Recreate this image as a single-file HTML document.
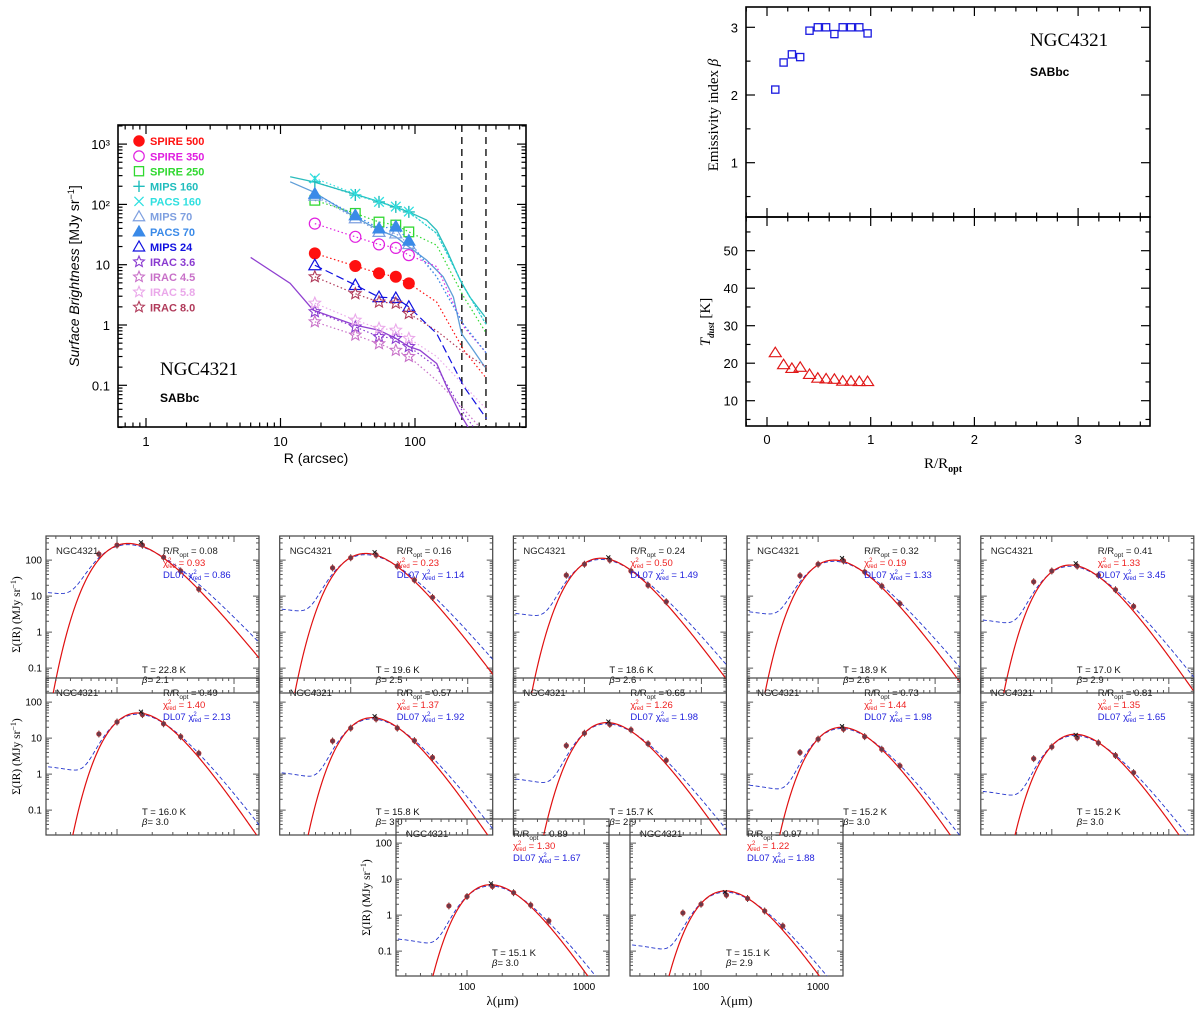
<!DOCTYPE html>
<html><head><meta charset="utf-8"><title>NGC4321 dust profiles</title>
<style>
html,body{margin:0;padding:0;background:#fff;}
svg{display:block;}
text{font-family:"Liberation Sans",sans-serif;}
.serif{font-family:"Liberation Serif",serif;}
</style></head>
<body>
<svg id="fig" width="1200" height="1012" viewBox="0 0 1200 1012" xmlns="http://www.w3.org/2000/svg">
<rect x="0" y="0" width="1200" height="1012" fill="#fff"/>
<defs>
<clipPath id="clipTL"><rect x="118" y="125" width="408" height="302"/></clipPath>
</defs>
<g id="tl"></g>
<g id="tr"></g>
<g id="sed"></g>
</svg>
<script>
// ---------- Top-left: radial surface brightness profiles ----------
const radii = [18, 36, 54, 72, 90];
const spire500 = [15.4, 9.5, 7.2, 6.3, 4.9];
const spire350 = [48, 29, 21.7, 19, 14.4];
const spire250 = [117, 71, 51, 45.5, 35];
const mips160 = [237, 143, 110, 91, 75];
const pacs160 = [270, 150, 110, 92, 76];
const mips70 = [140, 59, 35, 33, 22];
const pacs70 = [150, 66, 40, 43, 25];
const mips24 = [9.8, 4.6, 2.9, 2.8, 2.0];
const irac36 = [1.66, 0.93, 0.64, 0.6, 0.44];
const irac45 = [1.13, 0.68, 0.49, 0.38, 0.3];
const irac58 = [2.3, 1.2, 0.88, 0.82, 0.6];
const irac80 = [6.3, 3.3, 2.4, 2.3, 1.55];
const extR = [90, 145, 231, 340];
const spire500Ext = [4.9, 2.4, 0.38, 0.13];
const spire350Ext = [14.4, 9.3, 0.93, 0.34];
const spire250Ext = [35, 21, 2.9, 0.72];
const pacs160Ext = [76, 33, 4.3, 1.0];
const pacs70Ext = [25, 6.3, 1.0, 0.34];
const mips24Ext = [2.0, 0.72, 0.095, 0.028];
const irac36Ext = [0.44, 0.2, 0.034, 0.01];
const irac45Ext = [0.3, 0.12, 0.04, 0.015];
const irac58Ext = [0.6, 0.3, 0.1, 0.04];
const irac80Ext = [1.55, 0.8, 0.35, 0.2];
const cyanProfR = [11.8, 17.5, 35.6, 54, 72, 90, 122, 145, 172, 216, 256, 331];
const cyanProfS = [287, 237, 148, 111, 89, 75, 55, 37, 17.5, 5.6, 2.9, 1.37];
const steelProfR = [11.8, 17.5, 35.6, 54, 72, 90, 122, 162, 193, 222, 272, 331];
const steelProfS = [237, 162, 62, 37.5, 29, 19.8, 11.9, 6.3, 2.9, 0.72, 0.38, 0.2];
const purpleProfR = [6, 11.8, 17.5, 35.6, 54, 72, 90, 109, 145, 172, 216, 256];
const purpleProfS = [13.2, 4.9, 1.77, 1.0, 0.82, 0.6, 0.44, 0.38, 0.23, 0.095, 0.034, 0.018];
const apertureR = [223, 337];
const tlXTicks = [1, 10, 100];
const tlYTicks = [1000, 100, 10, 1, 0.1];
const tlYLabels = ['10³', '10²', '10', '1', '0.1'];

// ---------- Top-right: beta and T vs R/Ropt ----------
const rOpt = [0.08, 0.16, 0.24, 0.32, 0.41, 0.49, 0.57, 0.65, 0.73, 0.81, 0.89, 0.97];
const betaVals = [2.08, 2.48, 2.6, 2.56, 2.95, 3.0, 3.0, 2.9, 3.0, 3.0, 3.0, 2.91];
const tempVals = [22.8, 19.6, 18.6, 18.9, 17.0, 16.0, 15.8, 15.7, 15.2, 15.2, 15.1, 15.1];
const trXTicks = [0, 1, 2, 3];
const betaTicks = [1, 2, 3];
const tempTicks = [10, 20, 30, 40, 50];

// ---------- SED panels ----------
const sedR = ['0.08','0.16','0.24','0.32','0.41','0.49','0.57','0.65','0.73','0.81','0.89','0.97'];
const sedT = [22.8, 19.6, 18.6, 18.9, 17.0, 16.0, 15.8, 15.7, 15.2, 15.2, 15.1, 15.1];
const sedBeta = [2.1, 2.5, 2.6, 2.6, 2.9, 3.0, 3.0, 2.9, 3.0, 3.0, 3.0, 2.9];
const chiMBB = ['0.93','0.23','0.50','0.19','1.33','1.40','1.37','1.26','1.44','1.35','1.30','1.22'];
const chiDL = ['0.86','1.14','1.49','1.33','3.45','2.13','1.92','1.98','1.98','1.65','1.67','1.88'];
const sedPeak = [290, 153, 113, 100, 73, 50, 37, 27, 20, 12.8, 7, 4.7];
const dlFloor = [11, 3.8, 2.9, 3.2, 1.9, 1.4, 0.95, 0.64, 0.43, 0.29, 0.19, 0.13];
const bandWl = [70, 100, 160, 250, 350, 500];
const flux70 = [147, 61, 38, 37, 25, 13, 8.3, 6.2, 4, 2.7, 1.8, 1.15];
const flux100 = [260, 116, 77, 77, 50, 28, 19, 13.7, 9.4, 5.7, 3.3, 2.0];
const flux160 = [260, 138, 100, 95, 68, 45, 34, 24, 17.8, 10.2, 6.3, 3.6];
const flux250 = [120, 68, 50, 47, 38, 25, 19, 17, 11, 7.4, 4.2, 2.9];
const flux350 = [50, 28, 20, 19, 15, 11, 8.5, 7, 4.9, 3.3, 1.9, 1.3];
const flux500 = [15.6, 9.2, 7, 6.2, 5.2, 3.8, 2.9, 2.4, 1.7, 1.1, 0.69, 0.5];
const sedXTicks = [100, 1000];
const sedYTicks = [100, 10, 1, 0.1];
const sedYLabels = ['100', '10', '1', '0.1'];

const NS = 'http://www.w3.org/2000/svg';
function mk(parent, tag, attrs) {
  const e = document.createElementNS(NS, tag);
  for (const k in attrs) e.setAttribute(k, attrs[k]);
  parent.appendChild(e);
  return e;
}
const L = Math.log10;

function logMinorVals(lo, hi) {
  const out = [];
  for (let d = Math.floor(L(lo)) - 1; d <= Math.ceil(L(hi)); d++) {
    for (let k = 1; k <= 9; k++) {
      const v = k * Math.pow(10, d);
      if (v >= lo && v <= hi) out.push([v, k === 1]);
    }
  }
  return out;
}
function linVals(lo, hi, step, majStep) {
  const out = [];
  const s = Math.ceil(lo / step - 1e-9);
  for (let i = s; i * step <= hi + 1e-9; i++) {
    const v = i * step;
    out.push([v, Math.abs(v / majStep - Math.round(v / majStep)) < 1e-6]);
  }
  return out;
}
function xTicks(g, vals, fx, y0, y1, M, m, stroke, sw) {
  vals.forEach(([v, maj]) => {
    const x = fx(v), len = maj ? M : m;
    const t1 = mk(g, 'line', {x1: x, x2: x, y1: y1, y2: y1 - len, stroke: stroke, 'stroke-width': sw});
    
    
    const t2 = mk(g, 'line', {x1: x, x2: x, y1: y0, y2: y0 + len, stroke: stroke, 'stroke-width': sw});
    
    
  });
}
function yTicks(g, vals, fy, x0, x1, M, m, stroke, sw) {
  vals.forEach(([v, maj]) => {
    const y = fy(v), len = maj ? M : m;
    const t1 = mk(g, 'line', {x1: x0, x2: x0 + len, y1: y, y2: y, stroke: stroke, 'stroke-width': sw});
    
    
    const t2 = mk(g, 'line', {x1: x1, x2: x1 - len, y1: y, y2: y, stroke: stroke, 'stroke-width': sw});
    
    
  });
}
function pathFrom(xs, ys, fx, fy) {
  return xs.map((x, i) => (i ? 'L' : 'M') + fx(x).toFixed(2) + ',' + fy(ys[i]).toFixed(2)).join(' ');
}
function starPts(cx, cy, r) {
  const p = [];
  for (let i = 0; i < 10; i++) {
    const a = -Math.PI / 2 + i * Math.PI / 5, rr = i % 2 ? r * 0.45 : r;
    p.push((cx + rr * Math.cos(a)).toFixed(2) + ',' + (cy + rr * Math.sin(a)).toFixed(2));
  }
  return p.join(' ');
}
function marker(g, type, x, y, color, s) {
  let e;
  if (type === 'fcircle') e = mk(g, 'circle', {cx: x, cy: y, r: s, fill: color, stroke: color});
  else if (type === 'ocircle') e = mk(g, 'circle', {cx: x, cy: y, r: s, fill: 'none', stroke: color, 'stroke-width': 1.2});
  else if (type === 'square') e = mk(g, 'rect', {x: x - s, y: y - s, width: 2 * s, height: 2 * s, fill: 'none', stroke: color, 'stroke-width': 1.3});
  else if (type === 'plus') e = mk(g, 'path', {d: `M${x - s},${y}H${x + s}M${x},${y - s}V${y + s}`, stroke: color, 'stroke-width': 1.4, fill: 'none'});
  else if (type === 'cross') e = mk(g, 'path', {d: `M${x - s * .8},${y - s * .8}L${x + s * .8},${y + s * .8}M${x - s * .8},${y + s * .8}L${x + s * .8},${y - s * .8}`, stroke: color, 'stroke-width': 1.3, fill: 'none'});
  else if (type === 'otri' || type === 'ftri') e = mk(g, 'polygon', {points: `${x},${y - s} ${x - s},${y + s * .75} ${x + s},${y + s * .75}`, fill: type === 'ftri' ? color : 'none', stroke: color, 'stroke-width': 1.2});
  else e = mk(g, 'polygon', {points: starPts(x, y, s), fill: 'none', stroke: color, 'stroke-width': 1.1});
  return e;
}

// ================= TOP-LEFT =================
(function () {
  const g = document.getElementById('tl');
  const fx = v => 146 + L(v) * 134.5;
  const fy = v => 325 - L(v) * 60.3;
  const frame = mk(g, 'rect', {x: 118, y: 125, width: 408, height: 302, fill: 'none', stroke: '#000', 'stroke-width': 1.6});
  
  
  xTicks(g, logMinorVals(0.62, 668), fx, 125, 427, 9, 4.5, '#000', 1.2);
  yTicks(g, logMinorVals(0.02, 2000), fy, 118, 526, 9, 4.5, '#000', 1.2);
  tlXTicks.forEach(v => {
    const t = mk(g, 'text', {x: fx(v), y: 446, 'text-anchor': 'middle', 'font-size': 13});
    t.textContent = String(v);
    
    
  });
  tlYTicks.forEach((v, i) => {
    const t = mk(g, 'text', {x: 110, y: fy(v) + 5, 'text-anchor': 'end', 'font-size': 13});
    t.textContent = tlYLabels[i];
    
    
  });
  const xt = mk(g, 'text', {x: 316, y: 463, 'text-anchor': 'middle', 'font-size': 14});
  xt.textContent = 'R (arcsec)';
  
  
  const yt = mk(g, 'text', {x: 0, y: 0, 'text-anchor': 'middle', 'font-size': 14, transform: 'translate(79,276) rotate(-90)'});
  yt.innerHTML = '<tspan font-style="italic">Surface Brightness</tspan> [MJy sr<tspan font-size="9" dy="-5">−1</tspan><tspan dy="5">]</tspan>';
  
  
  const n1 = mk(g, 'text', {x: 160, y: 375, 'font-size': 19, class: 'serif'});
  n1.textContent = 'NGC4321';
  
  
  const n2 = mk(g, 'text', {x: 160, y: 402, 'font-size': 12, 'font-weight': 'bold'});
  n2.textContent = 'SABbc';
  
  

  const cg = mk(g, 'g', {'clip-path': 'url(#clipTL)'});
  
  
  apertureR.forEach(r => {
    const d = mk(cg, 'line', {x1: fx(r), x2: fx(r), y1: 125, y2: 427, stroke: '#000', 'stroke-width': 1.3, 'stroke-dasharray': '7,5'});
    
    
  });
  const profiles = [
    [cyanProfR, cyanProfS, '#2bbcbc', 'mips160-profile'],
    [steelProfR, steelProfS, '#5f9ed8', 'mips70-profile'],
    [purpleProfR, purpleProfS, '#9040d0', 'irac36-profile']
  ];
  profiles.forEach(p => {
    const e = mk(cg, 'path', {d: pathFrom(p[0], p[1], fx, fy), fill: 'none', stroke: p[2], 'stroke-width': 1.3});
    
    
  });
  const series = [
    ['SPIRE 500', spire500, spire500Ext, '#ff1010', 'fcircle', 5.5, 'spire500'],
    ['SPIRE 350', spire350, spire350Ext, '#e020e0', 'ocircle', 5.5, 'spire350'],
    ['SPIRE 250', spire250, spire250Ext, '#30d830', 'square', 4.8, 'spire250'],
    ['MIPS 160', mips160, pacs160Ext, '#20bdbd', 'plus', 6, 'mips160'],
    ['PACS 160', pacs160, pacs160Ext, '#30e0e0', 'cross', 6, 'pacs160'],
    ['MIPS 70', mips70, pacs70Ext, '#7fa0e0', 'otri', 6, 'mips70'],
    ['PACS 70', pacs70, pacs70Ext, '#3a8ae8', 'ftri', 6, 'pacs70'],
    ['MIPS 24', mips24, mips24Ext, '#1010e0', 'otri', 6, 'mips24'],
    ['IRAC 3.6', irac36, irac36Ext, '#8a3ad0', 'star', 6, 'irac36'],
    ['IRAC 4.5', irac45, irac45Ext, '#c870c8', 'star', 6, 'irac45'],
    ['IRAC 5.8', irac58, irac58Ext, '#eaa8ea', 'star', 6, 'irac58'],
    ['IRAC 8.0', irac80, irac80Ext, '#b03a5a', 'star', 6, 'irac80']
  ];
  series.forEach(s => {
    const xs = radii.concat(extR.slice(1)), ys = s[1].concat(s[2].slice(1));
    const dash = s[6] === 'mips24' ? '8,4' : '1.5,2.5';
    const ln = mk(cg, 'path', {d: pathFrom(xs, ys, fx, fy), fill: 'none', stroke: s[3], 'stroke-width': 1.2, 'stroke-dasharray': dash});
    
    
    radii.forEach((r, i) => {
      const m = marker(cg, s[4], fx(r), fy(s[1][i]), s[3], s[5]);
      
      
    });
  });
  series.forEach((s, i) => {
    const y = 141 + i * 15.1;
    const m = marker(g, s[4], 139, y, s[3], s[5] * 0.95);
    
    
    const t = mk(g, 'text', {x: 150, y: y + 4.2, 'font-size': 11, 'font-weight': 'bold', fill: s[3]});
    t.textContent = s[0];
    
    
  });
})();

// ================= TOP-RIGHT =================
(function () {
  const g = document.getElementById('tr');
  const fx = v => 767 + v * 103.7;
  const fb = b => 230.4 - 67.7 * b;
  const ft = t => 400.7 - (t - 10) * 3.75;
  [[7, 210, 'beta-frame'], [217, 209, 'temperature-frame']].forEach(f => {
    const r = mk(g, 'rect', {x: 746, y: f[0], width: 404, height: f[1], fill: 'none', stroke: '#000', 'stroke-width': 1.6});
    
    
  });
  xTicks(g, linVals(-0.2, 3.69, 0.2, 1), fx, 7, 217, 9, 4.5, '#000', 1.2);
  xTicks(g, linVals(-0.2, 3.69, 0.2, 1), fx, 217, 426, 9, 4.5, '#000', 1.2);
  yTicks(g, linVals(0.21, 3.31, 0.5, 1), fb, 746, 1150, 9, 4.5, '#000', 1.2);
  yTicks(g, linVals(3.3, 59, 5, 10), ft, 746, 1150, 9, 4.5, '#000', 1.2);
  trXTicks.forEach(v => {
    const t = mk(g, 'text', {x: fx(v), y: 444, 'text-anchor': 'middle', 'font-size': 13});
    t.textContent = String(v);
    
    
  });
  betaTicks.forEach(v => {
    const t = mk(g, 'text', {x: 738, y: fb(v) + 5, 'text-anchor': 'end', 'font-size': 13});
    t.textContent = String(v);
    
    
  });
  tempTicks.forEach(v => {
    const t = mk(g, 'text', {x: 738, y: ft(v) + 5, 'text-anchor': 'end', 'font-size': 13});
    t.textContent = String(v);
    
    
  });
  const xt = mk(g, 'text', {x: 943, y: 468, 'text-anchor': 'middle', 'font-size': 15, class: 'serif'});
  xt.innerHTML = 'R/R<tspan font-size="10" dy="4" font-weight="bold">opt</tspan>';
  
  
  const yb = mk(g, 'text', {x: 0, y: 0, 'text-anchor': 'middle', 'font-size': 15, class: 'serif', transform: 'translate(718,115) rotate(-90)'});
  yb.innerHTML = 'Emissivity index <tspan font-style="italic">β</tspan>';
  
  
  const yT = mk(g, 'text', {x: 0, y: 0, 'text-anchor': 'middle', 'font-size': 15, class: 'serif', transform: 'translate(710,322) rotate(-90)'});
  yT.innerHTML = '<tspan font-style="italic">T</tspan><tspan font-size="9" font-style="italic" font-weight="bold" dy="4">dust</tspan><tspan dy="-4">  [K]</tspan>';
  
  
  const n1 = mk(g, 'text', {x: 1030, y: 46, 'font-size': 19, class: 'serif'});
  n1.textContent = 'NGC4321';
  
  
  const n2 = mk(g, 'text', {x: 1030, y: 76, 'font-size': 12, 'font-weight': 'bold'});
  n2.textContent = 'SABbc';
  
  
  rOpt.forEach((r, i) => {
    const b = mk(g, 'rect', {x: fx(r) - 3.6, y: fb(betaVals[i]) - 3.6, width: 7.2, height: 7.2, fill: 'none', stroke: '#1a1ae0', 'stroke-width': 1.3});
    
    
    const x = fx(r), y = ft(tempVals[i]);
    const t = mk(g, 'polygon', {points: `${x},${y - 5.5} ${x - 6},${y + 4} ${x + 6},${y + 4}`, fill: 'none', stroke: '#e01818', 'stroke-width': 1.2});
    
    
  });
})();

// ================= SED PANELS =================
(function () {
  const root = document.getElementById('sed');
  const W = 213, H = 157, XL = 1.393, YT = 2.67;
  const rowY = [536, 678, 819];
  function xPeak(b) { let x = 4; for (let k = 0; k < 50; k++) x = (3 + b) * (1 - Math.exp(-x)); return x; }
  function mbb(lam, T, b) { return Math.pow(lam, -(3 + b)) / (Math.exp(14388 / (lam * T)) - 1); }
  const lams = [];
  for (let i = 0; i <= 200; i++) lams.push(Math.pow(10, 1.3 + i * (3.3 - 1.3) / 200));
  function normCurve(T, b, peak) {
    let mx = 0;
    const v = lams.map(l => { const s = mbb(l, T, b); if (s > mx) mx = s; return s; });
    return v.map(s => s / mx * peak);
  }
  const fluxes = [flux70, flux100, flux160, flux250, flux350, flux500];
  sedR.forEach((rr, i) => {
    const row = i < 5 ? 0 : (i < 10 ? 1 : 2);
    const px = i < 10 ? 46 + (i % 5) * 233.7 : 396 + (i - 10) * 234;
    const py = rowY[row];
    const fx = l => px + (L(l) - XL) * 117;
    const fy = v => py + (YT - L(v)) * 36;
    const g = mk(root, 'g', {});
    
    
    const cp = mk(g, 'clipPath', {id: 'cp' + i});
    mk(cp, 'rect', {x: px, y: py, width: W, height: H});
    const fr = mk(g, 'rect', {x: px, y: py, width: W, height: H, fill: 'none', stroke: '#444', 'stroke-width': 1.2});
    
    
    xTicks(g, logMinorVals(25, 1620), fx, py, py + H, 6, 3, '#555', 1);
    yTicks(g, logMinorVals(0.021, 460), fy, px, px + W, 6, 3, '#555', 1);
    const cg = mk(g, 'g', {'clip-path': `url(#cp${i})`});
    
    
    const T = sedT[i], b = sedBeta[i];
    const bb = b - 0.6;
    const Tb = T * xPeak(b) / xPeak(bb);
    const red = normCurve(T, b, sedPeak[i]);
    const blueM = normCurve(Tb, bb, sedPeak[i] * 0.92);
    const blue = blueM.map((v, k) => v + dlFloor[i] * Math.exp(-Math.pow(lams[k] / 70, 1.3)) * 1.5);
    const bl = mk(cg, 'path', {d: pathFrom(lams, blue, fx, fy), fill: 'none', stroke: '#2233cc', 'stroke-width': 0.9, 'stroke-dasharray': '4,2.5'});
    
    
    const rd = mk(cg, 'path', {d: pathFrom(lams, red.map(v => Math.max(v, 1e-4)), fx, fy), fill: 'none', stroke: '#e01010', 'stroke-width': 1.2});
    
    
    bandWl.forEach((w, k) => {
      const v = fluxes[k][i];
      const x = fx(w) + (k === 2 ? 1.5 : 0), y = fy(v);
      const eb = mk(cg, 'line', {x1: x, x2: x, y1: y - 3.5, y2: y + 3.5, stroke: '#333', 'stroke-width': 0.9});
      
      
      const c = mk(cg, 'circle', {cx: x, cy: y, r: 2.3, fill: '#6a3a4a', stroke: '#c03030', 'stroke-width': 0.7});
      
      
    });
    const cx = fx(160), cy = fy(flux160[i] * 1.2);
    const xm = mk(cg, 'path', {d: `M${cx - 2},${cy - 2}L${cx + 2},${cy + 2}M${cx - 2},${cy + 2}L${cx + 2},${cy - 2}`, stroke: '#111', 'stroke-width': 0.9});
    
    
    const t1 = mk(g, 'text', {x: px + 10, y: py + 18, 'font-size': 9.5, fill: '#222'});
    t1.textContent = 'NGC4321';
    
    
    const t2 = mk(g, 'text', {x: px + 117, y: py + 18, 'font-size': 9.5, fill: '#222'});
    t2.innerHTML = 'R/R<tspan font-size="6.5" dy="3">opt</tspan><tspan dy="-3"> = ' + rr + '</tspan>';
    
    
    const t3 = mk(g, 'text', {x: px + 117, y: py + 30, 'font-size': 9.5, fill: '#ee2020'});
    t3.innerHTML = 'χ<tspan font-size="6" dy="-4">2</tspan><tspan font-size="6" dx="-4" dy="6">red</tspan><tspan dy="-2"> = ' + chiMBB[i] + '</tspan>';
    
    
    const t4 = mk(g, 'text', {x: px + 117, y: py + 42, 'font-size': 9.5, fill: '#2222dd'});
    t4.innerHTML = 'DL07 χ<tspan font-size="6" dy="-4">2</tspan><tspan font-size="6" dx="-4" dy="6">red</tspan><tspan dy="-2"> = ' + chiDL[i] + '</tspan>';
    
    
    const t5 = mk(g, 'text', {x: px + 96, y: py + H - 20, 'font-size': 9.5, fill: '#111'});
    t5.textContent = 'T = ' + sedT[i].toFixed(1) + ' K';
    
    
    const t6 = mk(g, 'text', {x: px + 96, y: py + H - 10, 'font-size': 9.5, fill: '#111'});
    t6.innerHTML = '<tspan font-style="italic">β</tspan>= ' + sedBeta[i].toFixed(1);
    
    
    if (i === 0 || i === 5 || i === 10) {
      sedYTicks.forEach((v, k) => {
        const t = mk(g, 'text', {x: px - 4, y: fy(v) + 3.5, 'text-anchor': 'end', 'font-size': 10});
        t.textContent = sedYLabels[k];
        
        
      });
      const yl = mk(g, 'text', {x: 0, y: 0, 'text-anchor': 'middle', 'font-size': 11.5, class: 'serif', transform: `translate(${px - 26},${py + H / 2}) rotate(-90)`});
      yl.innerHTML = 'Σ(IR) (MJy sr<tspan font-size="8" dy="-4">−1</tspan><tspan dy="4">)</tspan>';
      
      
    }
    if (i >= 10) {
      sedXTicks.forEach(v => {
        const t = mk(g, 'text', {x: fx(v), y: py + H + 14, 'text-anchor': 'middle', 'font-size': 10});
        t.textContent = String(v);
        
        
      });
      const xl = mk(g, 'text', {x: px + W / 2, y: py + H + 29, 'text-anchor': 'middle', 'font-size': 13, class: 'serif'});
      xl.textContent = 'λ(μm)';
      
      
    }
  });
})();
</script>
</body></html>
